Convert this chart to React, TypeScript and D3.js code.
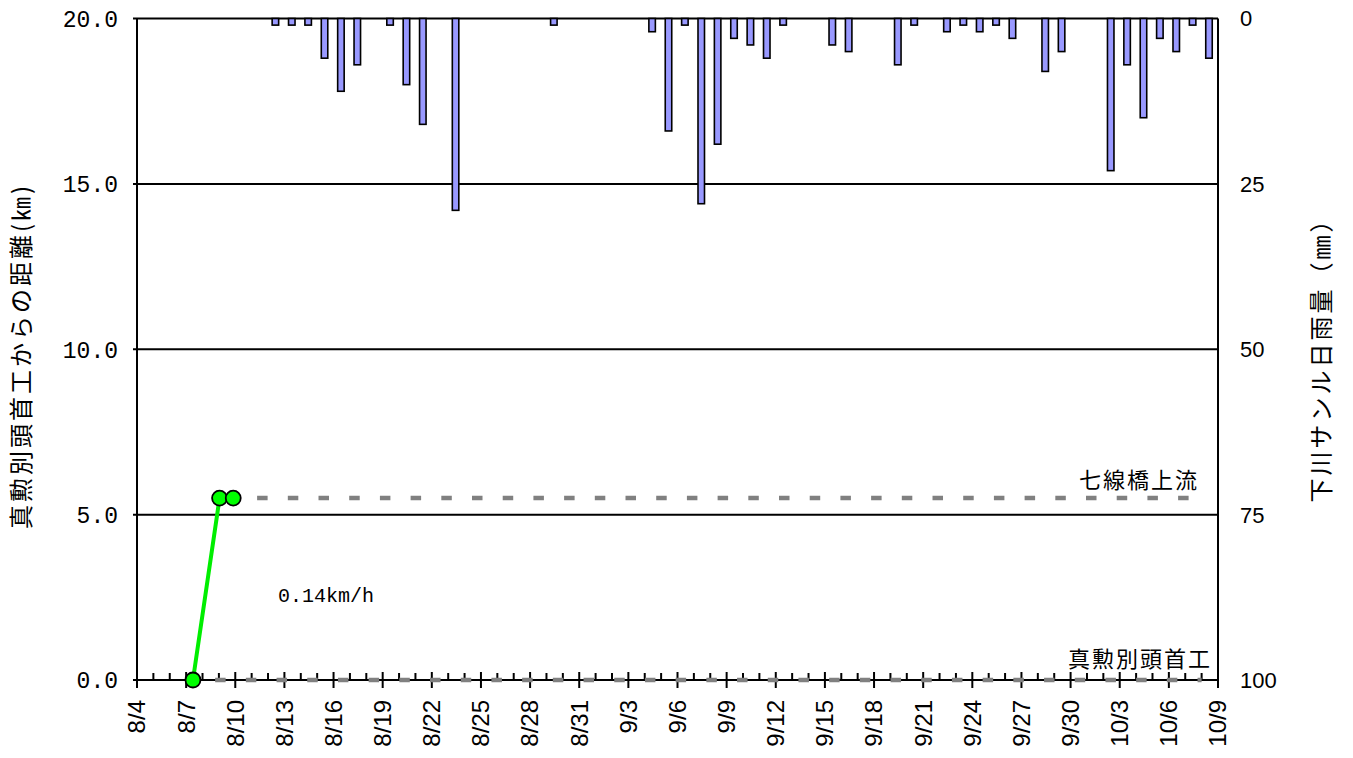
import React from "react";
import * as d3 from "d3";

const YEAR = 2014;

// Daily rainfall (mm) at 下川サンル
const rainDates = ["8/12","8/13","8/14","8/15","8/16","8/17","8/19","8/20","8/21","8/23","8/29","9/4","9/5","9/6","9/7","9/8","9/9","9/10","9/11","9/12","9/15","9/16","9/19","9/20","9/22","9/23","9/24","9/25","9/26","9/28","9/29","10/2","10/3","10/4","10/5","10/6","10/7","10/8"];
const rainMm = [1,1,1,6,11,7,1,10,16,29,1,2,17,1,28,19,3,4,6,1,4,5,7,1,2,1,2,1,3,8,5,23,7,15,3,5,1,6];

// Tracked position (km from 真勲別頭首工)
const trackTimes = ["8/7 10:00", "8/9 1:00", "8/9 21:00"];
const trackKm = [0, 5.5, 5.5];

// Reference stations
const stationNames = ["真勲別頭首工", "七線橋上流"];
const stationKm = [0, 5.5];
const stationFrom = ["8/8 18:30", "8/11 8:00"];
const stationTo = ["10/8 0:00", "10/8 4:00"];

const speedLabel = "0.14km/h";

const dateTicks = ["8/4","8/7","8/10","8/13","8/16","8/19","8/22","8/25","8/28","8/31","9/3","9/6","9/9","9/12","9/15","9/18","9/21","9/24","9/27","9/30","10/3","10/6","10/9"];
const leftTicks = [0, 5, 10, 15, 20];
const rightTicks = [0, 25, 50, 75, 100];

const leftTitle = "真勲別頭首工からの距離(㎞)";
const rightTitle = "下川サンル日雨量（㎜）";

function parseMD(s: string): Date {
  const [md, hm] = s.split(" ");
  const [m, d] = md.split("/").map(Number);
  let h = 0, mi = 0;
  if (hm) { const p = hm.split(":").map(Number); h = p[0]; mi = p[1]; }
  return new Date(YEAR, m - 1, d, h, mi);
}

const W = 1353, H = 758;
const L = 137, R = 1218, T = 18.5, B = 680;

export default function App() {
  const x = d3.scaleTime().domain([parseMD("8/4"), parseMD("10/9")]).range([L, R]);
  const yL = d3.scaleLinear().domain([0, 20]).range([B, T]);
  const yR = d3.scaleLinear().domain([0, 100]).range([T, B]);
  const days = d3.timeDay.range(parseMD("8/4"), d3.timeDay.offset(parseMD("10/9"), 1));
  const dayW = x(parseMD("8/5")) - x(parseMD("8/4"));
  const majorSet = new Set(dateTicks.map((t) => parseMD(t).getTime()));
  const line = d3.line<[Date, number]>().x((d) => x(d[0])).y((d) => yL(d[1]));
  const track: [Date, number][] = trackTimes.map((t, i) => [parseMD(t), trackKm[i]]);
  const fmtL = d3.format(".1f");
  const barW = 6.5;
  const monoFont = "'Liberation Mono', 'DejaVu Sans Mono', monospace";
  const sansFont = "'Liberation Sans', Arial, sans-serif";
  const cjkFont = "'Noto Sans CJK JP', 'Noto Sans', sans-serif";

  return (
    <div style={{ position: "absolute", left: 0, top: 0 }}>
      <svg width={W} height={H} style={{ display: "block", background: "#fff" }}>
        {/* gridlines */}
        {leftTicks.map((t) => (
          <line key={"g" + t} x1={L - 4} x2={R} y1={yL(t)} y2={yL(t)} stroke="#000" strokeWidth={2} />
        ))}
        {/* rain bars */}
        {rainDates.map((d, i) => {
          const cx = x(parseMD(d)) + 0.45 * dayW;
          return (
            <rect key={"r" + i} x={cx - barW / 2} y={yR(0)} width={barW} height={yR(rainMm[i]) - yR(0)}
              fill="#9999ff" stroke="#000" strokeWidth={1.6} />
          );
        })}
        {/* axes */}
        <line x1={L} x2={L} y1={T} y2={B} stroke="#000" strokeWidth={2} />
        <line x1={R} x2={R} y1={T} y2={B} stroke="#000" strokeWidth={2} />
        <line x1={L} x2={R} y1={B} y2={B} stroke="#000" strokeWidth={2} />
        {days.map((d, i) => {
          const major = majorSet.has(d.getTime());
          return (
            <line key={"t" + i} x1={x(d)} x2={x(d)} y1={major ? B - 8 : B - 7} y2={major ? B + 8 : B}
              stroke="#000" strokeWidth={2} />
          );
        })}
        {dateTicks.map((t) => (
          <text key={"dl" + t} transform={`translate(${x(parseMD(t))},700) rotate(-90)`} textAnchor="end"
            dy="0.35em" fontFamily={sansFont} fontSize={24} fill="#000">{t}</text>
        ))}
        {leftTicks.map((t) => (
          <text key={"ll" + t} x={118} y={yL(t)} dy="0.36em" textAnchor="end" fontFamily={monoFont}
            fontSize={23} fill="#000">{fmtL(t)}</text>
        ))}
        {rightTicks.map((t) => (
          <text key={"rl" + t} x={1240} y={yR(t)} dy="0.36em" textAnchor="start" fontFamily={sansFont}
            fontSize={22} fill="#000">{t}</text>
        ))}
        {/* station reference lines */}
        {stationNames.map((n, i) => (
          <line key={"s" + i} x1={x(parseMD(stationFrom[i]))} x2={x(parseMD(stationTo[i]))}
            y1={yL(stationKm[i])} y2={yL(stationKm[i])} stroke="#808080" strokeWidth={4.5}
            strokeDasharray="10.5 20.2" />
        ))}
        <text x={1199} y={yL(stationKm[1]) - 10} textAnchor="end" fontFamily={cjkFont} fontSize={22}
          letterSpacing={2} fill="#000">{stationNames[1]}</text>
        <text x={1212} y={yL(stationKm[0]) - 13} textAnchor="end" fontFamily={cjkFont} fontSize={22}
          letterSpacing={2} fill="#000">{stationNames[0]}</text>
        {/* track */}
        <path d={line(track) || ""} fill="none" stroke="#00ee00" strokeWidth={4} />
        {track.map((p, i) => (
          <circle key={"p" + i} cx={x(p[0])} cy={yL(p[1])} r={7.5} fill="#00ff00" stroke="#000" strokeWidth={1.8} />
        ))}
        <text x={278} y={602} fontFamily={monoFont} fontSize={20} fill="#000">{speedLabel}</text>
        {/* axis titles */}
        <text transform={`translate(22,356) rotate(-90)`} textAnchor="middle" dy="0.35em" fontFamily={cjkFont}
          fontSize={24} letterSpacing={3} fill="#000">{leftTitle}</text>
        <text transform={`translate(1322,354) rotate(-90)`} textAnchor="middle" dy="0.35em" fontFamily={cjkFont}
          fontSize={24} letterSpacing={3} fill="#000">{rightTitle}</text>
      </svg>
    </div>
  );
}
